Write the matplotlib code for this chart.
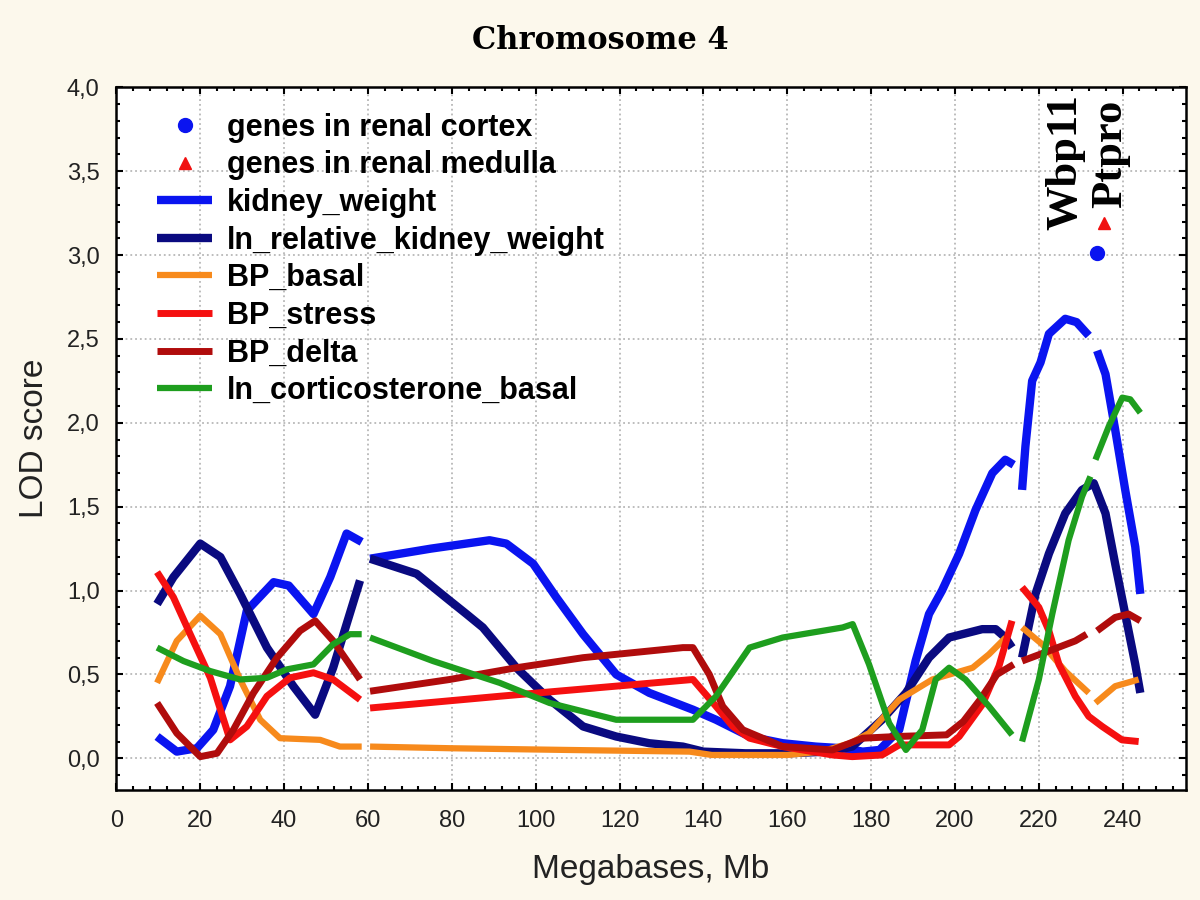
import numpy as np
import matplotlib.pyplot as plt
from matplotlib.ticker import MultipleLocator

nan = np.nan

# genes (markers)
cortex_x = [233.8]
cortex_y = [3.01]
medulla_x = [235.5]
medulla_y = [3.19]

# LOD curves, segments separated by nan
kw_x = [9.7, 14.4, 19.2, 23.1, 27.1, 31.1, 37.5, 41.1, 47, 51, 54.9, 58.5, nan,
        60.5, 75, 89, 93, 99.4, 104.9, 111.3, 119.2, 127.1, 137.5, 143, 151, 158.9, 166.8, 173.2,
        178, 182, 186.7, 190.6, 193.8, 196.9, 201, 204.9, 208.9, 212, 214, nan,
        216, 216.8, 218.4, 220.4, 222.4, 226.3, 229, 231.9, nan,
        233.9, 235.9, 238.2, 240.6, 243, 244.2]
kw_y = [0.13, 0.04, 0.06, 0.17, 0.43, 0.88, 1.05, 1.03, 0.86, 1.08, 1.34, 1.29, nan,
        1.19, 1.25, 1.30, 1.28, 1.16, 0.96, 0.74, 0.50, 0.39, 0.29, 0.23, 0.13, 0.09, 0.07, 0.06,
        0.04, 0.05, 0.17, 0.58, 0.86, 1.00, 1.22, 1.48, 1.70, 1.78, 1.75, nan,
        1.60, 1.86, 2.25, 2.36, 2.53, 2.62, 2.60, 2.52, nan,
        2.43, 2.29, 1.96, 1.60, 1.26, 0.98]

rkw_x = [9.7, 13.6, 20, 24.8, 29.5, 35.9, 42.2, 47.4, 51.7, 54.9, 58.1, nan,
         60.5, 71.6, 79.5, 83.5, 87.4, 95.4, 103.3, 111.3, 119.2, 127.1, 135.1, 140, 150, 160, 170,
         175.5, 182.6, 188.3, 193.8, 198.6, 206.5, 209.7, 212, 213.6, nan,
         216, 219.2, 222.4, 226.3, 230.3, 233.1, 235.9, 238.2, 240.6, 243, 244.2]
rkw_y = [0.92, 1.08, 1.28, 1.20, 0.98, 0.66, 0.43, 0.26, 0.54, 0.80, 1.06, nan,
         1.19, 1.10, 0.94, 0.86, 0.78, 0.54, 0.35, 0.19, 0.13, 0.09, 0.07, 0.04, 0.03, 0.03, 0.04,
         0.07, 0.23, 0.39, 0.60, 0.72, 0.77, 0.77, 0.72, 0.66, nan,
         0.60, 0.98, 1.22, 1.46, 1.60, 1.64, 1.46, 1.16, 0.86, 0.56, 0.39]

bpb_x = [9.7, 14.4, 20, 24.8, 29.5, 34.3, 39, 48.6, 53.3, 58.5, nan,
         60.5, 80, 107.3, 136.7, 142, 160, 168, 175, 179.5, 186.7, 194.6, 204.2, 208.1, 212.1, nan,
         216, 220.8, 226.3, 231.9, nan,
         233.5, 238.2, 243.8]
bpb_y = [0.45, 0.70, 0.85, 0.74, 0.47, 0.23, 0.12, 0.11, 0.07, 0.07, nan,
         0.07, 0.06, 0.05, 0.04, 0.02, 0.02, 0.04, 0.09, 0.15, 0.35, 0.47, 0.54, 0.62, 0.72, nan,
         0.78, 0.68, 0.52, 0.39, nan,
         0.33, 0.43, 0.47]

bps_x = [9.7, 13.6, 17.6, 22.4, 27.1, 31.1, 35.9, 41.4, 47, 51.7, 58.1, nan,
         60.5, 91.4, 137.5, 143, 147, 151, 158.9, 170.8, 175.5, 182.6, 186.7, 198.6, 201, 206.5,
         210.5, 213.6, nan,
         216, 220, 222.4, 224.8, 228.7, 231.9, 235.1, 239.8, 243.8]
bps_y = [1.11, 0.96, 0.74, 0.48, 0.11, 0.19, 0.37, 0.48, 0.51, 0.47, 0.35, nan,
         0.30, 0.37, 0.47, 0.31, 0.19, 0.12, 0.07, 0.02, 0.01, 0.02, 0.08, 0.08, 0.13, 0.32,
         0.55, 0.82, nan,
         1.02, 0.90, 0.76, 0.56, 0.37, 0.25, 0.19, 0.11, 0.10]

bpd_x = [9.7, 14.4, 20, 24, 27.9, 32.7, 38.3, 43.8, 47.4, 51.7, 58.1, nan,
         60.5, 79.5, 95.4, 111.3, 135.1, 137.5, 141.4, 144.6, 149.4, 158.9, 170.8, 178, 186, 198,
         202, 206, 210, 214, nan,
         216, 222.4, 228.7, 231.4, nan,
         233.9, 238.2, 241.4, 244.2]
bpd_y = [0.33, 0.15, 0.01, 0.03, 0.17, 0.39, 0.60, 0.76, 0.82, 0.70, 0.47, nan,
         0.40, 0.47, 0.54, 0.60, 0.66, 0.66, 0.50, 0.31, 0.17, 0.07, 0.05, 0.12, 0.13, 0.14,
         0.22, 0.35, 0.50, 0.56, nan,
         0.58, 0.64, 0.70, 0.74, nan,
         0.76, 0.84, 0.86, 0.82]

cort_x = [9.7, 16, 22.4, 29.5, 35.9, 40.6, 47, 51.7, 55.7, 58.5, nan,
          60.5, 75.5, 91.4, 103.3, 119.2, 137.5, 143, 151, 158.9, 173.2, 175.6, 179.5, 184.3,
          188.3, 192.2, 195.4, 198.6, 202.5, 208.1, 213.6, nan,
          216, 220, 223.2, 227.1, 230.3, 232.3, nan,
          233.5, 236.7, 239.9, 241.8, 244.2]
cort_y = [0.66, 0.58, 0.52, 0.47, 0.48, 0.53, 0.56, 0.68, 0.74, 0.74, nan,
          0.72, 0.58, 0.45, 0.33, 0.23, 0.23, 0.37, 0.66, 0.72, 0.78, 0.80, 0.56, 0.21,
          0.05, 0.17, 0.47, 0.54, 0.47, 0.31, 0.14, nan,
          0.10, 0.47, 0.86, 1.30, 1.56, 1.68, nan,
          1.78, 1.98, 2.15, 2.14, 2.06]

yticks = [0, 0.5, 1.0, 1.5, 2.0, 2.5, 3.0, 3.5, 4.0]
ytick_labels = ["0,0", "0,5", "1,0", "1,5", "2,0", "2,5", "3,0", "3,5", "4,0"]
xticks = list(range(0, 241, 20))

plt.rcParams["font.family"] = ["Liberation Sans", "DejaVu Sans"]

fig = plt.figure(figsize=(12, 9), dpi=100, facecolor="#fcf8ec")
ax = fig.add_axes([0.097, 0.122, 0.891, 0.781])
ax.set_facecolor("white")

ax.plot(cortex_x, cortex_y, "o", color="#0a14f0", ms=10, label="genes in renal cortex")
ax.plot(medulla_x, medulla_y, "^", color="#f01010", ms=9, label="genes in renal medulla")
ax.plot(kw_x, kw_y, color="#0a14f0", lw=6, solid_capstyle="butt", label="kidney_weight")
ax.plot(rkw_x, rkw_y, color="#0a0a80", lw=6, solid_capstyle="butt", label="ln_relative_kidney_weight")
ax.plot(bpb_x, bpb_y, color="#f78a1c", lw=4.5, solid_capstyle="butt", label="BP_basal")
ax.plot(bps_x, bps_y, color="#f51010", lw=5, solid_capstyle="butt", label="BP_stress")
ax.plot(bpd_x, bpd_y, color="#b00c0c", lw=5, solid_capstyle="butt", label="BP_delta")
ax.plot(cort_x, cort_y, color="#1e9e1e", lw=4.5, solid_capstyle="butt", label="ln_corticosterone_basal")

ax.text(226.4, 3.15, "Wbp11", rotation=90, ha="center", va="bottom",
        family="Liberation Serif", weight="bold", fontsize=32)
ax.text(237.1, 3.28, "Ptpro", rotation=90, ha="center", va="bottom",
        family="Liberation Serif", weight="bold", fontsize=32)

ax.set_xlim(0, 255)
ax.set_ylim(-0.19, 4.0)
ax.set_xticks(xticks)
ax.set_yticks(yticks)
ax.set_yticklabels(ytick_labels)
ax.xaxis.set_minor_locator(MultipleLocator(4))
ax.yaxis.set_minor_locator(MultipleLocator(0.1))
ax.tick_params(which="both", direction="in", top=True, right=True, width=1.5, color="black")
ax.tick_params(which="major", length=5, labelsize=17, pad=14, labelcolor="#222222")
ax.tick_params(which="minor", length=3)
ax.tick_params(axis="y", which="major", pad=12)
for s in ax.spines.values():
    s.set_linewidth(1.8)

ax.grid(True, which="major", linestyle=":", color="#b8b8b8", lw=1.3)
ax.set_axisbelow(True)

ax.set_xlabel("Megabases, Mb", fontsize=24, labelpad=16, color="#222222")
ax.set_ylabel("LOD score", fontsize=24, labelpad=12, color="#222222")
fig.text(0.5, 0.955, "Chromosome 4", ha="center", va="center",
         family="DejaVu Serif", weight="bold", fontsize=22)

leg = ax.legend(loc="upper left", bbox_to_anchor=(0.038, 0.964), frameon=False,
                prop={"weight": "bold", "size": 22}, borderpad=0, borderaxespad=0,
                handlelength=1.8, handletextpad=0.5, labelspacing=0.25)

fig.savefig("out.png", dpi=100, facecolor=fig.get_facecolor())
